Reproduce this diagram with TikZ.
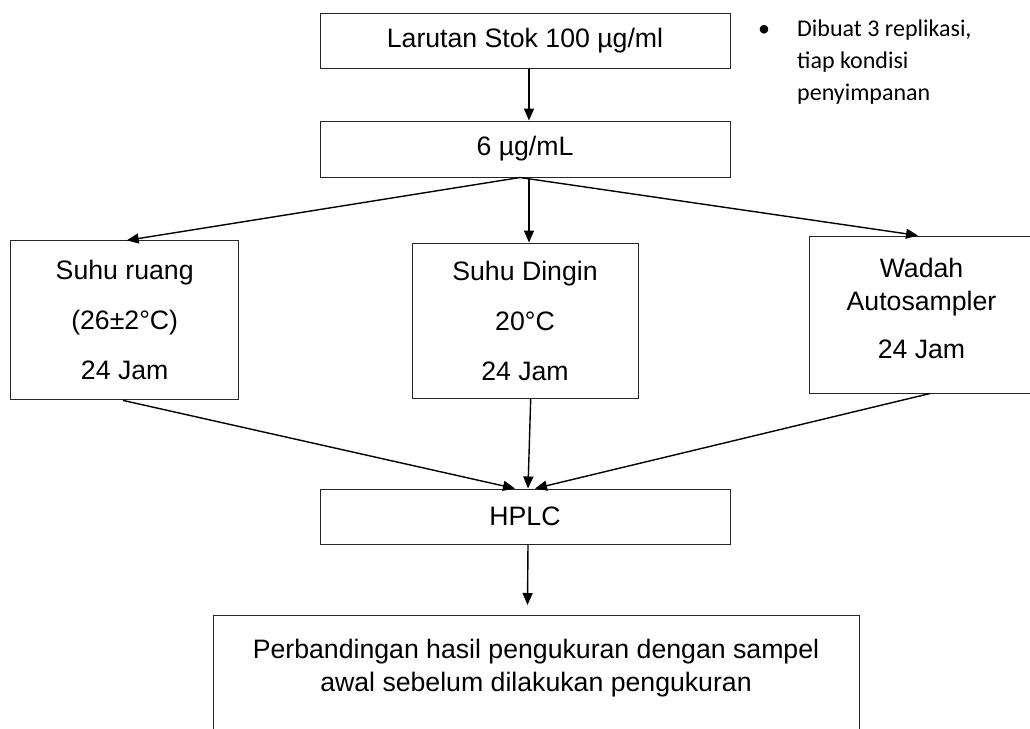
\documentclass[tikz,border=0pt]{standalone}
\usepackage{fontspec}
\setmainfont{Liberation Sans}
\newfontfamily\notefont{Carlito}
\usetikzlibrary{arrows.meta}

\begin{document}
\begin{tikzpicture}[x=1pt,y=-1pt,
  box/.style={draw=black!85, line width=1pt, rectangle, inner sep=0pt,
    align=center, font=\fontsize{26.67}{30}\selectfont},
  flow/.style={draw=black, line width=1.4pt, -{Triangle[length=12pt,width=10pt]}},
  bodytext/.style={inner sep=0pt, align=center, font=\fontsize{26.67}{33}\selectfont},
]
\useasboundingbox (0,0) rectangle (1030,728);

% main column
\node[box, minimum width=410pt, minimum height=55pt] (stok) at (525,40.5) {Larutan Stok 100 µg/ml};
\node[box, minimum width=410pt, minimum height=56pt] (enam) at (525,149) {6 µg/mL};

% storage conditions
\node[box, minimum width=228pt, minimum height=159pt, font=\fontsize{26.67}{50}\selectfont]
  (ruang) at (124.7,320.4) {Suhu ruang\\(26±2°C)\\24 Jam};
\node[box, minimum width=226pt, minimum height=155pt, font=\fontsize{26.67}{50}\selectfont]
  (dingin) at (525,320.5) {Suhu Dingin\\20°C\\24 Jam};
\node[box, minimum width=225pt, minimum height=157pt, font=\fontsize{26.67}{33}\selectfont]
  (wadah) at (921.5,314.5) {Wadah\\Autosampler\\[15pt]24 Jam\rule[-12pt]{0pt}{0pt}};

% analysis and result
\node[box, minimum width=410pt, minimum height=55pt] (hplc) at (525,516.5) {HPLC};
\node[box, minimum width=646pt, minimum height=125pt, anchor=north] (hasil) at (536,615) {};
\node[bodytext, anchor=north] (hasilteks) at (536,638.5)
  {Perbandingan hasil pengukuran dengan sampel\\awal sebelum dilakukan pengukuran};

% side note
\node[anchor=base west, inner sep=0pt, font=\notefont\fontsize{24}{32}\selectfont] (catatan) at (758,36)
  {\begin{tabular}[t]{@{}p{39pt}@{}l@{}}•&Dibuat 3 replikasi,\\&tiap kondisi\\&penyimpanan\end{tabular}};

% connectors
\draw[flow] ([xshift=4pt]stok.south) -- ([xshift=4pt]enam.north);
\draw[flow] ([xshift=-5pt]enam.south) -- ([xshift=2pt]ruang.north);
\draw[flow] ([xshift=4pt]enam.south) -- ([xshift=4pt]dingin.north);
\draw[flow] ([xshift=-5pt]enam.south) -- ([xshift=-3.5pt]wadah.north);
\draw[flow] ([xshift=-1.7pt]ruang.south) -- ([xshift=-10pt]hplc.north);
\draw[flow] ([xshift=5.7pt]dingin.south) -- ([xshift=3pt]hplc.north);
\draw[flow] ([xshift=8.5pt]wadah.south) -- ([xshift=10pt]hplc.north);
\draw[flow] ([xshift=3pt]hplc.south) -- ([xshift=-8.5pt,yshift=10pt]hasil.north);
\end{tikzpicture}
\end{document}
